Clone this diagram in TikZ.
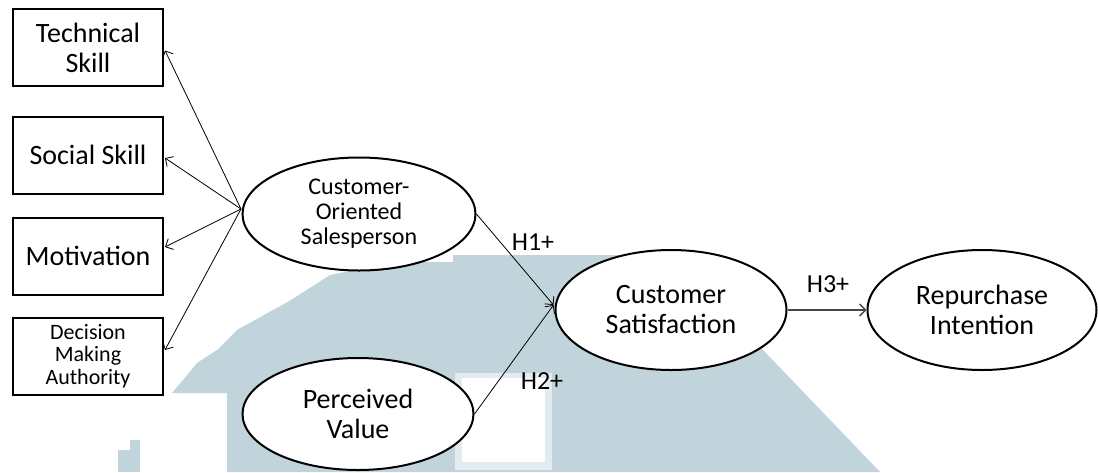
\documentclass[tikz,border=0pt]{standalone}
\usepackage{fontspec}
\setmainfont{Carlito}
\usetikzlibrary{arrows.meta,shapes.geometric,calc}
\definecolor{wm}{RGB}{193,211,219}
\definecolor{wmlight}{RGB}{226,236,240}
\definecolor{arrowgray}{RGB}{70,70,70}

\begin{document}
\begin{tikzpicture}[x=1pt,y=-1pt,
  box/.style={draw, line width=2pt, fill=white, minimum width=150pt, minimum height=77pt,
              align=center, inner sep=0pt},
  oval/.style={ellipse, draw, line width=2pt, fill=white, inner sep=0pt, align=center},
  big/.style={font=\fontsize{28}{30}\selectfont},
  mid/.style={font=\fontsize{24}{25}\selectfont},
  small/.style={font=\fontsize{22}{22.5}\selectfont},
  link/.style={-{Straight Barb[length=6pt,width=12pt]}, line width=0.8pt},
  hlabel/.style={font=\fontsize{26}{28}\selectfont, inner sep=0pt}
]
\useasboundingbox (0,0) rectangle (1098,472);
\fill[white] (0,0) rectangle (1098,472);

% pale background mark
\fill[wm] (395,262) -- (453,262) -- (453,255) -- (672,255) -- (880,472)
  -- (227,472) -- (227,393) -- (172,393) -- (183,380) -- (197,363)
  -- (217,350) -- (237,330) -- (291,300) -- (330,275) -- cycle;
\fill[wmlight] (455,373) rectangle (552,470);
\fill[white] (462,378) rectangle (545,462);
\fill[wm] (118,450) rectangle (140,472);
\fill[wm] (130,440) rectangle (140,450);

% indicator boxes
\node[box, big] (tech) at (88,47.5) {Technical\\Skill};
\node[box, big] (soc)  at (88,155)  {Social Skill};
\node[box, big] (mot)  at (88,256)  {Motivation};
\node[box, small] (dec) at (88,356) {Decision\\Making\\Authority};

% constructs
\node[oval, mid, minimum width=233pt, minimum height=113pt] (cos) at (359,214)
  {Customer-\\Oriented\\Salesperson};
\node[oval, big, minimum width=231pt, minimum height=120pt] (cs) at (671,310)
  {Customer\\Satisfaction};
\node[oval, big, minimum width=229pt, minimum height=120pt] (ri) at (982,310)
  {Repurchase\\Intention};
\node[oval, big, minimum width=231pt, minimum height=112pt] (pv) at (358,414)
  {Perceived\\Value};

% reflective indicators
\coordinate (hub) at ($(cos.west)+(-0.5,-5)$);
\draw[link] (hub) -- ($(tech.east)+(1,3)$);
\draw[link] (hub) -- ($(soc.east)+(1,3)$);
\draw[link] (hub) -- ($(mot.east)+(1,-9)$);
\draw[link] (hub) -- ($(dec.east)+(1,-6)$);

% hypotheses
\coordinate (csin) at ($(cs.west)+(-1,-5)$);
\draw[link] (cos.east) -- (csin);
\draw[link] (pv.east) -- (csin);
\draw[link, draw=arrowgray, line width=1.4pt] (cs.east) -- (ri.west);

\node[hlabel] (h1) at (533,242) {H1+};
\node[hlabel] (h2) at (542,381) {H2+};
\node[hlabel] (h3) at (828,284) {H3+};
\end{tikzpicture}
\end{document}
